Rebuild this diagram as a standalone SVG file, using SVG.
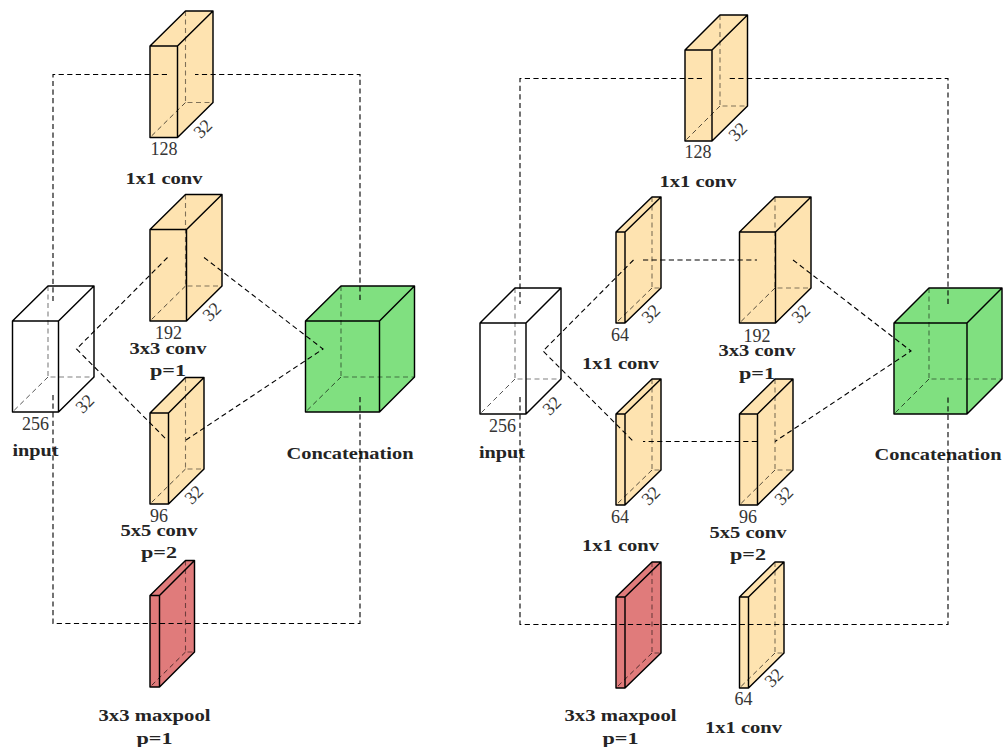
<svg xmlns="http://www.w3.org/2000/svg" width="1003" height="747" viewBox="0 0 1003 747">
<style>
.o{fill:#fee3b0}.g{fill:#80e080}.r{fill:#e07b7b}.w{fill:#fff}
.e{fill:none;stroke:#000;stroke-width:1.45;stroke-linejoin:round}
.h{fill:none;stroke:#000;stroke-opacity:.5;stroke-width:1.1;stroke-dasharray:5 3.5}
.t{stroke-opacity:.75;stroke-width:.9;stroke-dasharray:5 3.5}
.c{fill:none;stroke:#000;stroke-width:1.1;stroke-dasharray:5.2 3.4}
text{font-family:"Liberation Serif","Times New Roman",serif;text-anchor:middle;fill:#222}
.n{font-size:18px;fill:#333;opacity:.99}
.l{font-size:17px;font-weight:bold;opacity:.99}
</style>
<g id="left-conv1">
<path class="o" d="M150 137.5V46L185.5 11H213V102.5L177.5 137.5Z"/>
<path class="h" d="M185.500 11V102.500H213"/><path class="h t" d="M185.500 102.500L150 137.500"/>
<path class="e" d="M150 46H177.500V137.500H150ZM150 46L185.500 11H213L177.500 46M213 11V102.500L177.500 137.500"/>
<text class="n" x="164" y="155">128</text><text class="n" transform="translate(207 133) rotate(-45)">32</text>
<text class="l" x="164" y="184" textLength="77" lengthAdjust="spacingAndGlyphs">1x1 conv</text>
</g>
<g id="left-conv3">
<path class="o" d="M150 321V229.500L185.500 194.500H222V286L186.500 321Z"/>
<path class="h" d="M185.500 194.500V286H222"/><path class="h t" d="M185.500 286L150 321"/>
<path class="e" d="M150 229.500H186.500V321H150ZM150 229.500L185.500 194.500H222L186.500 229.500M222 194.500V286L186.500 321"/>
<text class="n" x="168.500" y="339">192</text><text class="n" transform="translate(216 316) rotate(-45)">32</text>
<text class="l" x="168" y="354" textLength="77" lengthAdjust="spacingAndGlyphs">3x3 conv</text>
<text class="l" x="168" y="376" textLength="36" lengthAdjust="spacingAndGlyphs">p=1</text>
</g>
<g id="left-conv5">
<path class="o" d="M150 504V413L185.500 377.500H204V469L168.500 504Z"/>
<path class="h" d="M185.500 377.500V469H204"/><path class="h t" d="M185.500 469L150 504"/>
<path class="e" d="M150 413H168.500V504H150ZM150 413L185.500 377.500H204L168.500 413M204 377.500V469L168.500 504"/>
<text class="n" x="159" y="522">96</text><text class="n" transform="translate(198 499) rotate(-45)">32</text>
<text class="l" x="159" y="536" textLength="77" lengthAdjust="spacingAndGlyphs">5x5 conv</text>
<text class="l" x="159" y="558" textLength="36" lengthAdjust="spacingAndGlyphs">p=2</text>
</g>
<g id="left-maxpool">
<path class="r" d="M150 687V595.500L185.500 560.500H194.500V652L159.500 687Z"/>
<path class="h" d="M185.500 560.500V652H194.500"/><path class="h t" d="M185.500 652L150 687"/>
<path class="e" d="M150 595.500H159.500V687H150ZM150 595.500L185.500 560.500H194.500L159.500 595.500M194.500 560.500V652L159.500 687"/>
<text class="l" x="154.500" y="721" textLength="112" lengthAdjust="spacingAndGlyphs">3x3 maxpool</text>
<text class="l" x="154.500" y="744" textLength="36" lengthAdjust="spacingAndGlyphs">p=1</text>
</g>
<g id="left-input">
<path class="w" d="M12.500 412V321L48 286H94V377L58.500 412Z"/>
<path class="h" d="M48 286V377H94"/><path class="h t" d="M48 377L12.500 412"/>
<path class="e" d="M12.500 321H58.500V412H12.500ZM12.500 321L48 286H94L58.500 321M94 286V377L58.500 412"/>
<text class="n" x="35.500" y="430">256</text><text class="n" transform="translate(89 408) rotate(-45)">32</text>
<text class="l" x="35.500" y="456" textLength="46" lengthAdjust="spacingAndGlyphs">input</text>
</g>
<g id="left-concat">
<path class="g" d="M305.500 412V321L341 286H414.500V377L379.500 412Z"/>
<path class="h" d="M341 286V377H414.500"/><path class="h t" d="M341 377L305.500 412"/>
<path class="e" d="M305.500 321H379.500V412H305.500ZM305.500 321L341 286H414.500L379.500 321M414.500 286V377L379.500 412"/>
<text class="l" x="350" y="459" textLength="127" lengthAdjust="spacingAndGlyphs">Concatenation</text>
</g>
<g id="right-conv1">
<path class="o" d="M685 141V50L720 15H747.500V106L712 141Z"/>
<path class="h" d="M720 15V106H747.500"/><path class="h t" d="M720 106L685 141"/>
<path class="e" d="M685 50H712V141H685ZM685 50L720 15H747.500L712 50M747.500 15V106L712 141"/>
<text class="n" x="698" y="158">128</text><text class="n" transform="translate(742 136) rotate(-45)">32</text>
<text class="l" x="698" y="187" textLength="77" lengthAdjust="spacingAndGlyphs">1x1 conv</text>
</g>
<g id="right-conv1a">
<path class="o" d="M616 323V232L652 197H661V288L625 323Z"/>
<path class="h" d="M652 197V288H661"/><path class="h t" d="M652 288L616 323"/>
<path class="e" d="M616 232H625V323H616ZM616 232L652 197H661L625 232M661 197V288L625 323"/>
<text class="n" x="620" y="341">64</text><text class="n" transform="translate(655 318) rotate(-45)">32</text>
<text class="l" x="620.500" y="369" textLength="77" lengthAdjust="spacingAndGlyphs">1x1 conv</text>
</g>
<g id="right-conv3">
<path class="o" d="M739.500 323V232L775 197H811V288L775.500 323Z"/>
<path class="h" d="M775 197V288H811"/><path class="h t" d="M775 288L739.500 323"/>
<path class="e" d="M739.500 232H775.500V323H739.500ZM739.500 232L775 197H811L775.500 232M811 197V288L775.500 323"/>
<text class="n" x="757" y="342">192</text><text class="n" transform="translate(805 318) rotate(-45)">32</text>
<text class="l" x="757" y="356" textLength="77" lengthAdjust="spacingAndGlyphs">3x3 conv</text>
<text class="l" x="757" y="379" textLength="36" lengthAdjust="spacingAndGlyphs">p=1</text>
</g>
<g id="right-conv1b">
<path class="o" d="M616 505V414L652 379H661V470L625 505Z"/>
<path class="h" d="M652 379V470H661"/><path class="h t" d="M652 470L616 505"/>
<path class="e" d="M616 414H625V505H616ZM616 414L652 379H661L625 414M661 379V470L625 505"/>
<text class="n" x="620" y="523">64</text><text class="n" transform="translate(655 500) rotate(-45)">32</text>
<text class="l" x="620.500" y="551" textLength="77" lengthAdjust="spacingAndGlyphs">1x1 conv</text>
</g>
<g id="right-conv5">
<path class="o" d="M739.500 505V414L775 379H793V470L757.500 505Z"/>
<path class="h" d="M775 379V470H793"/><path class="h t" d="M775 470L739.500 505"/>
<path class="e" d="M739.500 414H757.500V505H739.500ZM739.500 414L775 379H793L757.500 414M793 379V470L757.500 505"/>
<text class="n" x="748" y="523">96</text><text class="n" transform="translate(788 500) rotate(-45)">32</text>
<text class="l" x="748" y="538" textLength="77" lengthAdjust="spacingAndGlyphs">5x5 conv</text>
<text class="l" x="748" y="560" textLength="36" lengthAdjust="spacingAndGlyphs">p=2</text>
</g>
<g id="right-maxpool">
<path class="r" d="M616 688V597L652 562H661V653L625 688Z"/>
<path class="h" d="M652 562V653H661"/><path class="h t" d="M652 653L616 688"/>
<path class="e" d="M616 597H625V688H616ZM616 597L652 562H661L625 597M661 562V653L625 688"/>
<text class="l" x="620.500" y="721" textLength="112" lengthAdjust="spacingAndGlyphs">3x3 maxpool</text>
<text class="l" x="620.500" y="744" textLength="36" lengthAdjust="spacingAndGlyphs">p=1</text>
</g>
<g id="right-conv1c">
<path class="o" d="M739.500 688V597L775 562H784V653L748.500 688Z"/>
<path class="h" d="M775 562V653H784"/><path class="h t" d="M775 653L739.500 688"/>
<path class="e" d="M739.500 597H748.500V688H739.500ZM739.500 597L775 562H784L748.500 597M784 562V653L748.500 688"/>
<text class="n" x="743.500" y="705">64</text><text class="n" transform="translate(778 682) rotate(-45)">32</text>
<text class="l" x="743.500" y="733" textLength="77" lengthAdjust="spacingAndGlyphs">1x1 conv</text>
</g>
<g id="right-input">
<path class="w" d="M480 414V323L515 288H561V379L526 414Z"/>
<path class="h" d="M515 288V379H561"/><path class="h t" d="M515 379L480 414"/>
<path class="e" d="M480 323H526V414H480ZM480 323L515 288H561L526 323M561 288V379L526 414"/>
<text class="n" x="502.500" y="432">256</text><text class="n" transform="translate(556 410) rotate(-45)">32</text>
<text class="l" x="502" y="458" textLength="46" lengthAdjust="spacingAndGlyphs">input</text>
</g>
<g id="right-concat">
<path class="g" d="M894 414V323L929 288H1002V379L967 414Z"/>
<path class="h" d="M929 288V379H1002"/><path class="h t" d="M929 379L894 414"/>
<path class="e" d="M894 323H967V414H894ZM894 323L929 288H1002L967 323M1002 288V379L967 414"/>
<text class="l" x="938" y="460" textLength="127" lengthAdjust="spacingAndGlyphs">Concatenation</text>
</g>
<g id="connectors">
<path class="c" d="M167 74.500H53V303M53 395V623.500H360V395M360 300V74.500H195"/>
<path class="c" d="M167.500 257.500L76.500 349L167 440M204 257.500L323 349L186 440"/>
<path class="c" d="M702 78.500H520V304M520 397V624.500H948V397M948 304V78.500H729"/>
<path class="c" d="M633.500 260L543 351L633.500 441.500M643 260H757M793 260L911 351L775 441.500M757 441.500H643"/>
</g>
</svg>
